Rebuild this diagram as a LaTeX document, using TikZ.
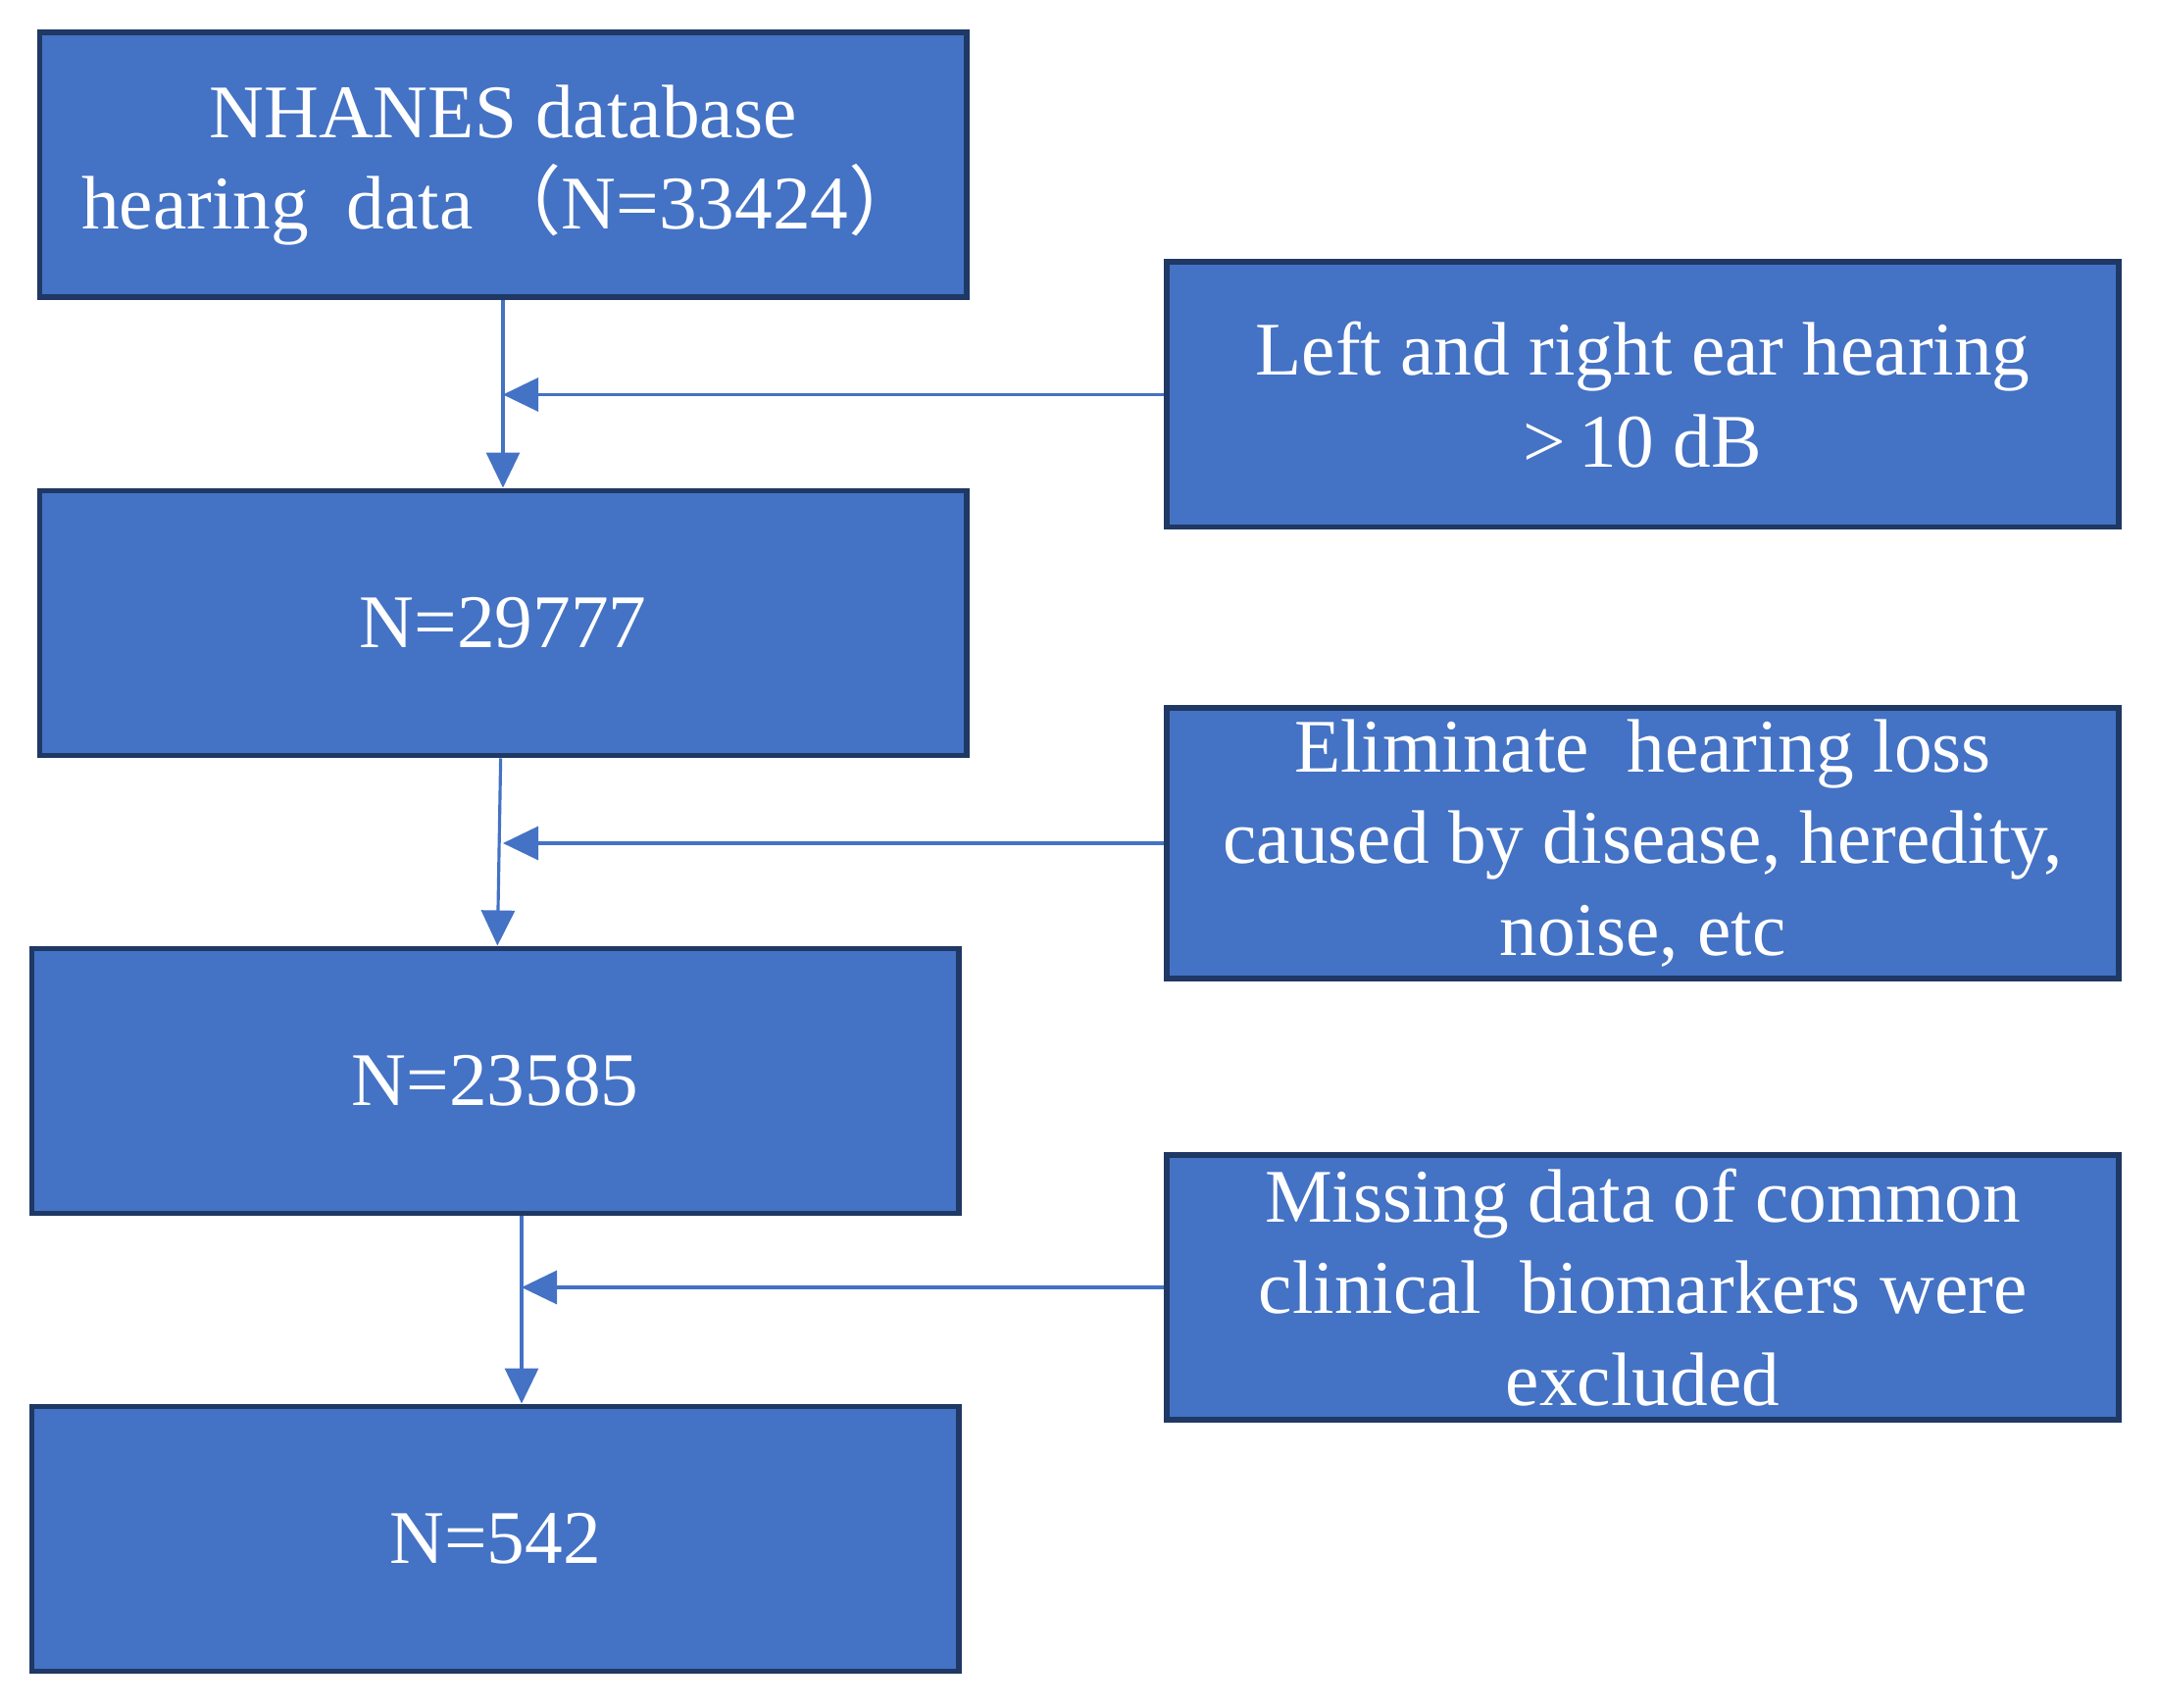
\documentclass[tikz,border=0pt]{standalone}
\usepackage{fontspec}
\setmainfont{Liberation Serif}
\newfontfamily\cjk{Noto Sans CJK SC}
\usepackage{tikz}
\usetikzlibrary{arrows.meta}
\definecolor{boxblue}{HTML}{4472C4}
\definecolor{boxedge}{HTML}{1F3864}

\begin{document}
\begin{tikzpicture}[->,>={Triangle[length=3.6mm,width=3.4mm]},auto,node distance=4.67cm,
                    line width=0.9pt,boxblue]
\tikzstyle{block}=[rectangle,fill=boxblue,draw=boxedge,line width=1.7pt,text=white,
                   minimum width=9.45cm,minimum height=2.70cm,align=center,
                   font=\fontsize{22}{26.7}\selectfont]
\tikzstyle{side}=[block,minimum width=9.71cm]
\useasboundingbox (0,0) rectangle (22,-17.42);
\node[block] (data) at (5.13,-1.685) {NHANES database\\hearing\ \ data\,{\cjk （}N=33424{\cjk ）}};
\node[block] (n1) [below of=data] {N=29777};
\node[block] (n2) [below of=n1,xshift=-0.08cm] {N=23585};
\node[block] (n3) [below of=n2] {N=542};
\node[side] (ear) at (16.755,-4.025) {Left and right ear hearing\\{>}\,10 dB};
\node[side] (loss) at (16.755,-8.60) {Eliminate\ \ hearing loss\\caused by disease, heredity,\\noise, etc};
\node[side] (miss) at (16.755,-13.13) {Missing data of common\\clinical\ \ biomarkers were\\excluded};
\coordinate (m1) at (ear.west -| data.south);
\coordinate (m2) at (loss.west -| n1.south);
\coordinate (m3) at ([xshift=0.27cm]miss.west -| n2.south);
\path (data) edge (n1)
      (n1) edge (n2)
      ([xshift=0.27cm]n2.south) edge ([xshift=0.27cm]n3.north)
      (ear) edge (m1)
      (loss) edge (m2)
      (miss) edge (m3);
\end{tikzpicture}
\end{document}
